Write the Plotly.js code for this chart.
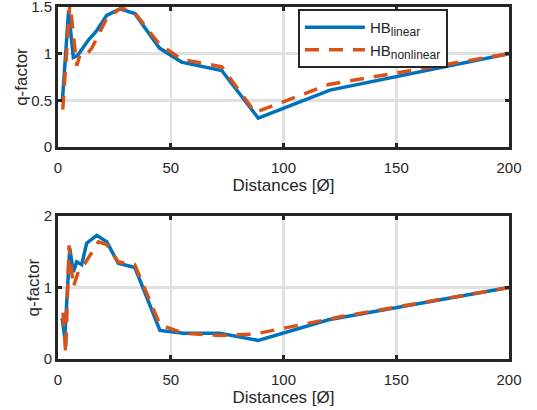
<!DOCTYPE html>
<html>
<head>
<meta charset="utf-8">
<script src="https://cdn.plot.ly/plotly-3.0.1.min.js"></script>
<style>
html,body{margin:0;padding:0;background:#fff;}
#chart{width:537px;height:410px;}
</style>
</head>
<body>
<div id="chart"></div>
<script>
// Top panel
var topLinearD = [2.0, 4.7, 6.8, 8.7, 13.3, 17, 21.6, 27.5, 34, 45, 54.8, 72.6, 88.8, 120.6, 200];
var topLinearQ = [0.51, 1.46, 0.96, 0.98, 1.14, 1.24, 1.41, 1.48, 1.43, 1.06, 0.91, 0.82, 0.31, 0.61, 1.0];
var topNonlinearD = [2.1, 5.3, 8.3, 9.8, 13.0, 15.0, 21.6, 28.2, 34, 45, 54.8, 72.6, 87.4, 120, 200];
var topNonlinearQ = [0.40, 1.55, 0.87, 0.99, 1.0, 1.06, 1.38, 1.49, 1.44, 1.1, 0.94, 0.86, 0.37, 0.67, 1.0];
// Bottom panel
var botLinearD = [1.8, 3.0, 5.2, 6.8, 8.3, 10.5, 12.7, 17.2, 21.6, 26.7, 34.1, 45.2, 55.6, 71.8, 88.8, 120, 200];
var botLinearQ = [0.57, 0.30, 1.55, 1.22, 1.36, 1.32, 1.62, 1.73, 1.64, 1.34, 1.28, 0.40, 0.36, 0.36, 0.26, 0.55, 1.0];
var botNonlinearD = [2.2, 3.4, 4.9, 6.8, 9.0, 12.0, 17.9, 21.6, 26.7, 34.0, 45.2, 55.6, 71.8, 87.4, 125, 200];
var botNonlinearQ = [0.65, 0.08, 1.59, 1.01, 1.22, 1.34, 1.64, 1.60, 1.36, 1.32, 0.48, 0.36, 0.33, 0.35, 0.59, 1.0];

var names = ['HB<sub><span style="font-size:12px">linear</span></sub>',
             'HB<sub><span style="font-size:12px">nonlinear</span></sub>'];
var xTicks = [0, 50, 100, 150, 200];
var topYTicks = [0, 0.5, 1, 1.5];
var botYTicks = [0, 1, 2];

var blue = '#0072BD', orange = '#D95319', dark = '#262626';
var lineW = 3.5;

var traces = [
  {x: topLinearD, y: topLinearQ, name: names[0], mode: 'lines', xaxis: 'x', yaxis: 'y',
   line: {color: blue, width: lineW}},
  {x: topNonlinearD, y: topNonlinearQ, name: names[1], mode: 'lines', xaxis: 'x', yaxis: 'y',
   line: {color: orange, width: lineW, dash: '14px,10px'}},
  {x: botLinearD, y: botLinearQ, name: names[0], mode: 'lines', xaxis: 'x2', yaxis: 'y2',
   line: {color: blue, width: lineW}, showlegend: false},
  {x: botNonlinearD, y: botNonlinearQ, name: names[1], mode: 'lines', xaxis: 'x2', yaxis: 'y2',
   line: {color: orange, width: lineW, dash: '14px,10px'}, showlegend: false}
];

function xax(anchor) {
  return {
    anchor: anchor, domain: [0, 1], range: [0, 200], automargin: 'bottom',
    tickvals: xTicks, ticktext: xTicks.map(String),
    showline: true, linewidth: 3, linecolor: dark, mirror: 'allticks',
    ticks: 'inside', ticklen: 4, tickwidth: 3, tickcolor: dark,
    showgrid: true, gridcolor: '#e0e0e0', gridwidth: 2.5, zeroline: false,
    tickfont: {size: 15, color: dark}, ticklabelstandoff: 5,
    title: {text: 'Distances [Ø]', font: {size: 17, color: dark}, standoff: 3}
  };
}
function yax(anchor, dom, rng, ticks) {
  return {
    anchor: anchor, domain: dom, range: rng, automargin: 'left',
    tickvals: ticks, ticktext: ticks.map(String),
    showline: true, linewidth: 3, linecolor: dark, mirror: 'allticks',
    ticks: 'inside', ticklen: 4, tickwidth: 3, tickcolor: dark,
    showgrid: true, gridcolor: '#e0e0e0', gridwidth: 2.5, zeroline: false,
    tickfont: {size: 15, color: dark}, ticklabeloverflow: 'allow',
    title: {text: 'q-factor', font: {size: 17, color: dark}, standoff: 0}
  };
}

var layout = {
  width: 537, height: 410,
  margin: {l: 58, r: 28, t: 7, b: 51},
  paper_bgcolor: '#fff', plot_bgcolor: '#fff',
  font: {family: '"Liberation Sans", Arial, sans-serif', color: dark},
  showlegend: true,
  xaxis: xax('y'),
  yaxis: yax('x', [0.602, 1], [0, 1.5], topYTicks),
  xaxis2: xax('y2'),
  yaxis2: yax('x2', [0, 0.406], [0, 2], botYTicks),
  legend: {
    x: 0.532, y: 0.994, xanchor: 'left', yanchor: 'top',
    bgcolor: '#fff', bordercolor: dark, borderwidth: 2,
    font: {size: 15, color: dark}, itemwidth: 60, tracegroupgap: 0
  }
};

Plotly.newPlot('chart', traces, layout, {displayModeBar: false, staticPlot: true});
</script>
</body>
</html>
